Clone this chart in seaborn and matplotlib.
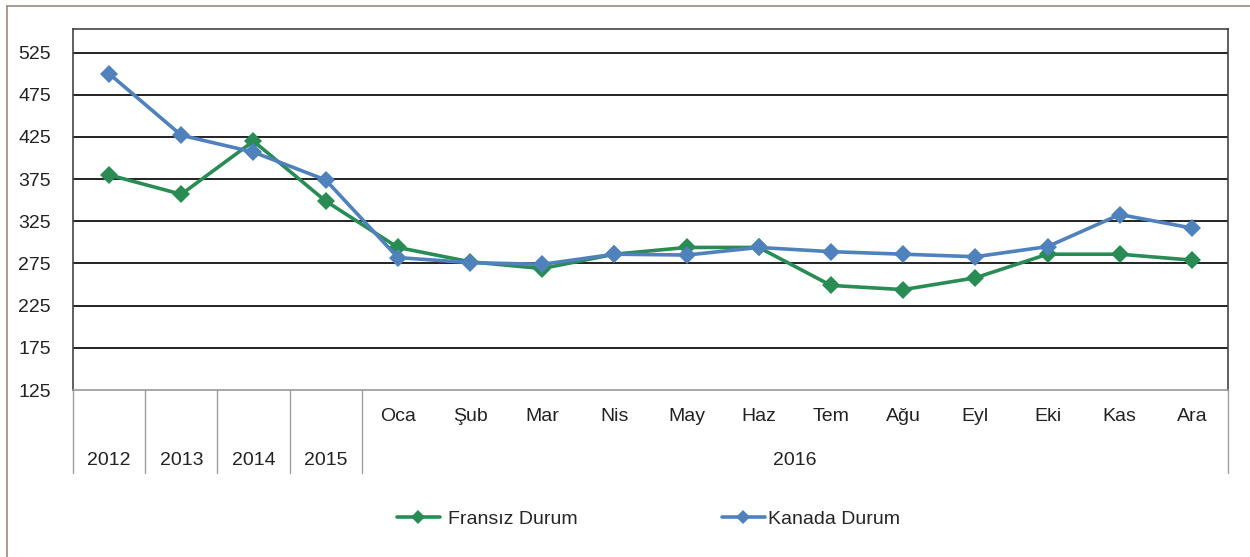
import matplotlib
matplotlib.use("Agg")
import matplotlib.pyplot as plt
import matplotlib.transforms as mtransforms
from matplotlib.lines import Line2D
import seaborn as sns
import pandas as pd

# data
periods = ["2012", "2013", "2014", "2015", "Oca", "Şub", "Mar", "Nis", "May",
           "Haz", "Tem", "Ağu", "Eyl", "Eki", "Kas", "Ara"]
years = ["2012", "2013", "2014", "2015"]
fransiz = [380, 357, 420, 349, 294, 277, 269, 286, 294, 294, 249, 244, 258, 286, 286, 279]
kanada = [500, 427, 407, 374, 282, 276, 274, 286, 285, 294, 289, 286, 283, 295, 333, 317]
yticks = [125, 175, 225, 275, 325, 375, 425, 475, 525]

green = "#2A8C55"
blue = "#4F81BD"
fs = 14

df = pd.DataFrame({
    "pos": list(range(len(periods))) * 2,
    "value": fransiz + kanada,
    "seri": ["Fransız Durum"] * len(periods) + ["Kanada Durum"] * len(periods),
})

sns.set_style("white")
plt.rcParams["font.family"] = ["Liberation Sans", "DejaVu Sans"]

fig = plt.figure(figsize=(12.5, 5.57), dpi=100)
ax = fig.add_axes([0.0584, 0.2998, 0.9240, 0.6482])

sns.lineplot(data=df, x="pos", y="value", hue="seri", style="seri",
             markers={"Fransız Durum": "D", "Kanada Durum": "D"},
             dashes=False, palette={"Fransız Durum": green, "Kanada Durum": blue},
             linewidth=2.6, markersize=9, markeredgewidth=0, ax=ax, legend=False)

ax.set_xlim(-0.5, len(periods) - 0.5)
ax.set_ylim(125, 553)
ax.set_yticks(yticks)
ax.set_yticklabels([str(t) for t in yticks], fontsize=fs, color="#222222")
ax.tick_params(axis="y", length=0, pad=16)
ax.set_xticks([])
ax.set_xlabel("")
ax.set_ylabel("")
for t in yticks[1:]:
    ax.axhline(t, color="#111111", linewidth=1.3, zorder=0)
for s in ax.spines.values():
    s.set_color("#444444")
    s.set_linewidth(1.2)
ax.spines["bottom"].set_color("#999999")

# category labels under the axis
trans = mtransforms.blended_transform_factory(ax.transData, ax.transAxes)
for i, p in enumerate(periods):
    if p in years:
        ax.text(i, -0.196, p, transform=trans, ha="center", va="center", fontsize=fs, color="#222222")
    else:
        ax.text(i, -0.074, p, transform=trans, ha="center", va="center", fontsize=fs, color="#222222")
month_pos = [i for i, p in enumerate(periods) if p not in years]
ax.text(sum(month_pos) / len(month_pos), -0.196, "2016", transform=trans,
        ha="center", va="center", fontsize=fs, color="#222222")
for xb in [-0.5, 0.5, 1.5, 2.5, 3.5, len(periods) - 0.5]:
    ax.add_line(Line2D([xb, xb], [0, -0.23], transform=trans, color="#a0a0a0",
                       linewidth=1.0, clip_on=False))

# legend, two entries placed separately
legend_y = 1 - 519 / 557
h_fr = Line2D([], [], color=green, marker="D", markersize=7, linewidth=2.6, markeredgewidth=0)
h_ka = Line2D([], [], color=blue, marker="D", markersize=7, linewidth=2.6, markeredgewidth=0)
fig.legend([h_fr], ["Fransız Durum"], loc="center left", bbox_to_anchor=(397 / 1250, legend_y),
           frameon=False, fontsize=fs, handlelength=2.2, handletextpad=0.4,
           borderpad=0, borderaxespad=0)
fig.legend([h_ka], ["Kanada Durum"], loc="center left", bbox_to_anchor=(722 / 1250, legend_y),
           frameon=False, fontsize=fs, handlelength=2.2, handletextpad=0.15,
           borderpad=0, borderaxespad=0)

# outer frame of the chart
fig.add_artist(Line2D([7 / 1250, 1], [1 - 6 / 557, 1 - 6 / 557], color="#9c8878", linewidth=1.2))
fig.add_artist(Line2D([7 / 1250, 7 / 1250], [0, 1 - 6 / 557], color="#9c8878", linewidth=1.2))

fig.savefig("out.png", dpi=100)
